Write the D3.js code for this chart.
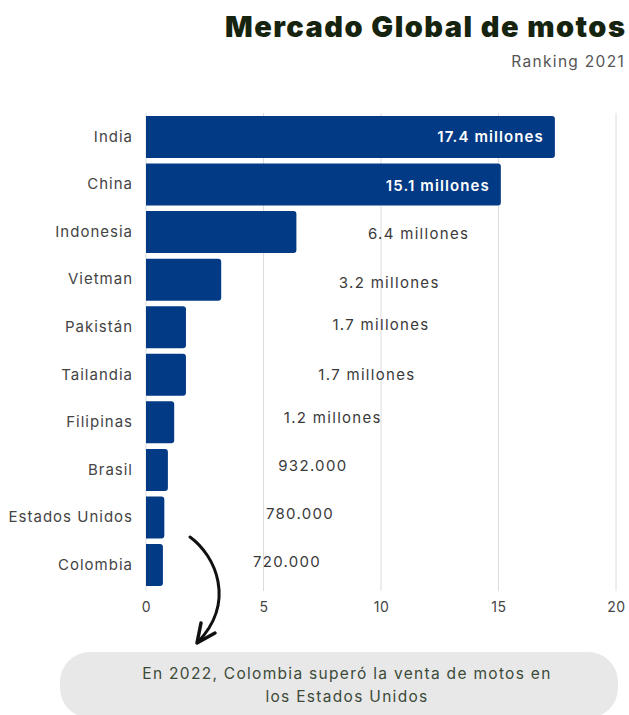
<!DOCTYPE html>
<html>
<head>
<meta charset="utf-8">
<script src="https://cdn.jsdelivr.net/npm/d3@7"></script>
<style>
  body { margin: 0; background: #fff; }
  svg { font-family: Inter, "Noto Sans", sans-serif; }
</style>
</head>
<body>
<svg id="chart"></svg>
<script>
const countries = ["India", "China", "Indonesia", "Vietman", "Pakistán", "Tailandia", "Filipinas", "Brasil", "Estados Unidos", "Colombia"];
const sales = [17.4, 15.1, 6.4, 3.2, 1.7, 1.7, 1.2, 0.932, 0.78, 0.72];
const valueLabels = ["17.4 millones", "15.1 millones", "6.4 millones", "3.2 millones", "1.7 millones", "1.7 millones", "1.2 millones", "932.000", "780.000", "720.000"];
const xTicks = [0, 5, 10, 15, 20];

const width = 629, height = 715;
const svg = d3.select("#chart").attr("width", width).attr("height", height);

const x = d3.scaleLinear().domain([0, 20]).range([146, 616]);
const y = d3.scaleBand().domain(countries).range([116, 586]).paddingInner(0.117).paddingOuter(0);

// title
svg.append("text")
    .attr("x", 625).attr("y", 37)
    .attr("text-anchor", "end")
    .attr("font-size", 29).attr("font-weight", 900)
    .attr("fill", "#16240f")
    .attr("textLength", 400).attr("lengthAdjust", "spacing")
    .text("Mercado Global de motos");
svg.append("text")
    .attr("x", 625).attr("y", 67)
    .attr("text-anchor", "end")
    .attr("font-size", 15.5).attr("letter-spacing", 1.3)
    .attr("fill", "#555")
    .text("Ranking 2021");

// grid
svg.append("g")
    .selectAll("line")
    .data(xTicks)
    .enter()
    .append("line")
    .attr("x1", d => x(d)).attr("x2", d => x(d))
    .attr("y1", 113).attr("y2", 591)
    .attr("stroke", "#dcdcdc").attr("stroke-width", 1);

// x axis
const xAxis = d3.axisBottom(x).tickValues(xTicks).tickSize(0).tickPadding(7);
svg.append("g")
    .attr("transform", "translate(0,595)")
    .call(xAxis)
    .call(g => g.select(".domain").remove())
    .call(g => g.selectAll("text").attr("font-size", 14).attr("letter-spacing", 0.6).attr("fill", "#444").attr("font-family", "Inter, sans-serif"));

// y axis
const yAxis = d3.axisLeft(y).tickSize(0).tickPadding(13);
svg.append("g")
    .attr("transform", "translate(146,0)")
    .call(yAxis)
    .call(g => g.select(".domain").remove())
    .call(g => g.selectAll("text").attr("font-size", 15).attr("letter-spacing", 1).attr("fill", "#444").attr("font-family", "Inter, sans-serif"));

// bars, flat left side, rounded right corners
const r = 3;
svg.append("g")
    .selectAll("path")
    .data(countries)
    .enter()
    .append("path")
    .attr("d", (c, i) => {
        const x0 = x(0), x1 = x(sales[i]), y0 = y(c), h = y.bandwidth();
        return `M${x0},${y0}H${x1 - r}Q${x1},${y0} ${x1},${y0 + r}V${y0 + h - r}Q${x1},${y0 + h} ${x1 - r},${y0 + h}H${x0}Z`;
    })
    .attr("fill", "#033a85");

// value labels: inside for the two biggest bars, floating for the rest
const labelAt = [null, null, 11.6, 10.35, 10.0, 9.4, 7.95, 7.1, 6.55, 6.0];
const labelDy = [0, 1, 2, 3.5, -2, -0.5, -5, -4, -4, -3];
svg.append("g")
    .selectAll("text")
    .data(countries)
    .enter()
    .append("text")
    .attr("x", (c, i) => i < 2 ? x(sales[i]) - 11 : x(labelAt[i]))
    .attr("y", (c, i) => y(c) + y.bandwidth() / 2 + labelDy[i])
    .attr("dy", "0.35em")
    .attr("text-anchor", (c, i) => i < 2 ? "end" : "middle")
    .attr("font-size", 15)
    .attr("letter-spacing", (c, i) => i < 2 ? 1.1 : 1.3)
    .attr("font-weight", (c, i) => i < 2 ? 600 : 400)
    .attr("fill", (c, i) => i < 2 ? "#fff" : "#3a3a3a")
    .text((c, i) => valueLabels[i]);

// arrow
svg.append("path")
    .attr("d", "M190,537 C216,556 236,602 198,642")
    .attr("fill", "none").attr("stroke", "#111").attr("stroke-width", 3).attr("stroke-linecap", "round");
svg.append("path")
    .attr("d", "M201,623 L197,643 L215,633")
    .attr("fill", "none").attr("stroke", "#111").attr("stroke-width", 3.5)
    .attr("stroke-linecap", "round").attr("stroke-linejoin", "round");

// note box
svg.append("rect")
    .attr("x", 60).attr("y", 652).attr("width", 558).attr("height", 66)
    .attr("rx", 30).attr("fill", "#e8e8e8");
const note = svg.append("text")
    .attr("text-anchor", "middle")
    .attr("font-size", 15.5).attr("letter-spacing", 1.3).attr("fill", "#3c4a38");
note.append("tspan").attr("x", 347).attr("y", 679).text("En 2022, Colombia superó la venta de motos en");
note.append("tspan").attr("x", 347).attr("y", 702).text("los Estados Unidos");
</script>
</body>
</html>
